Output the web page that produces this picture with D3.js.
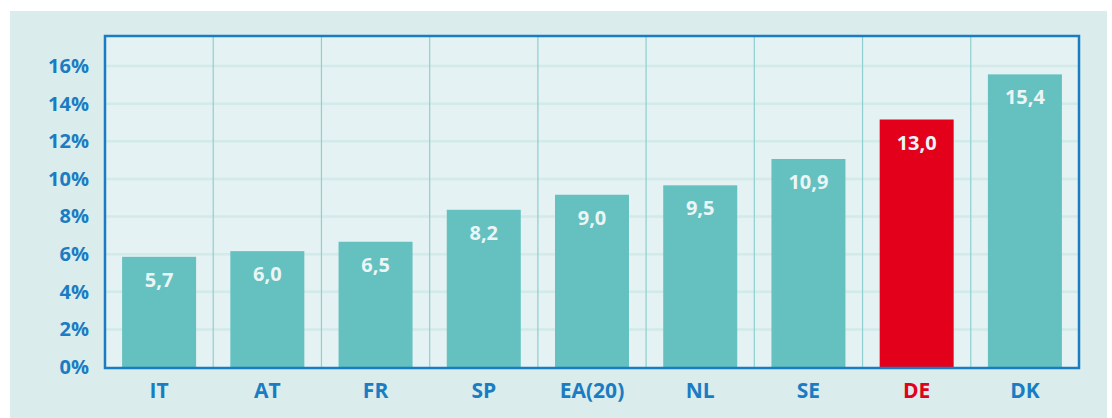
<!DOCTYPE html>
<html><head><meta charset="utf-8">
<script src="https://cdn.jsdelivr.net/npm/d3@7"></script>
<style>html,body{margin:0;padding:0;background:#fff;}svg{display:block;}</style>
</head><body>
<script>
const categories = ["IT","AT","FR","SP","EA(20)","NL","SE","DE","DK"];
const values = [5.7,6.0,6.5,8.2,9.0,9.5,10.9,13.0,15.4];
const valueLabels = ["5,7","6,0","6,5","8,2","9,0","9,5","10,9","13,0","15,4"];
const yTicks = [0,2,4,6,8,10,12,14,16];
const highlight = "DE";

(function(){
const W=1112,H=418;
const svg=d3.select("body").append("svg").attr("width",W).attr("height",H);
svg.append("rect").attr("x",10).attr("y",11).attr("width",1097).attr("height",H-11).attr("fill","#daeceb");

const pL=105,pR=1079,pT=36,pB=367;
const x=d3.scaleBand().domain(categories).range([pL,pR]).paddingInner(0).paddingOuter(0);
const y=d3.scaleLinear().domain([0,17.6]).range([pB,pT]);
const yb=d3.scaleLinear().domain([0,17.6]).range([pB-3,pT-3]);

svg.append("rect").attr("x",pL).attr("y",pT).attr("width",pR-pL).attr("height",pB-pT).attr("fill","#e4f2f3");

svg.append("g").selectAll("line").data(yTicks.filter(d=>d>0)).join("line")
  .attr("x1",pL).attr("x2",pR).attr("y1",d=>y(d)).attr("y2",d=>y(d))
  .attr("stroke","#d2eaea").attr("stroke-width",2.5);
svg.append("g").selectAll("line").data(categories.slice(1)).join("line")
  .attr("x1",d=>x(d)).attr("x2",d=>x(d)).attr("y1",pT).attr("y2",pB)
  .attr("stroke","#8fcfcf").attr("stroke-width",1.2);

const bw=74;
svg.append("g").selectAll("rect").data(categories).join("rect")
  .attr("x",d=>x(d)+x.bandwidth()/2-bw/2).attr("width",bw)
  .attr("y",(d,i)=>yb(values[i])).attr("height",(d,i)=>pB-yb(values[i]))
  .attr("fill",d=>d===highlight?"#e2001a":"#64c1c0");

svg.append("g").selectAll("text").data(categories).join("text")
  .attr("x",d=>x(d)+x.bandwidth()/2).attr("y",(d,i)=>yb(values[i])+30)
  .attr("text-anchor","middle").attr("font-family","Open Sans, sans-serif").attr("font-weight",700)
  .attr("font-size",20).attr("fill","#ecf5f5").text((d,i)=>valueLabels[i]);

svg.append("rect").attr("x",pL).attr("y",pT).attr("width",pR-pL).attr("height",pB-pT+1)
  .attr("fill","none").attr("stroke","#1a7cc2").attr("stroke-width",2.5);

const yAxis=d3.axisLeft(y).tickValues(yTicks).tickFormat(d=>d+"%").tickSize(0).tickPadding(16);
const ya=svg.append("g").attr("transform",`translate(${pL},0)`).call(yAxis);
ya.select(".domain").remove();
ya.selectAll("text").attr("font-family","Open Sans, sans-serif").attr("font-weight",700).attr("font-size",20).attr("fill","#1a7cc2");

const xAxis=d3.axisBottom(x).tickSize(0).tickPadding(16);
const xa=svg.append("g").attr("transform",`translate(0,${pB})`).call(xAxis);
xa.select(".domain").remove();
xa.selectAll("text").attr("font-family","Open Sans, sans-serif").attr("font-weight",700).attr("font-size",21)
  .attr("fill",d=>d===highlight?"#e2001a":"#1a7cc2");
})();
</script>
</body></html>
